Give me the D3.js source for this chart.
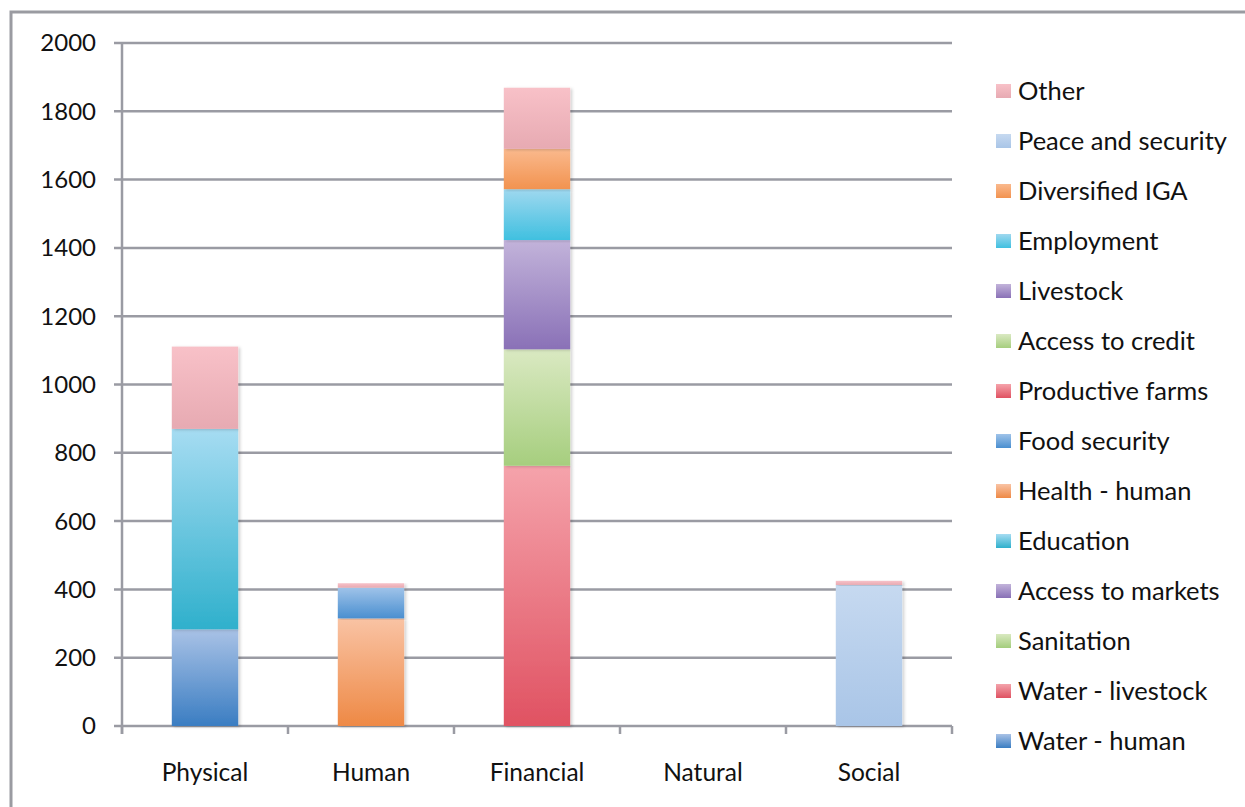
<!DOCTYPE html>
<html>
<head>
<meta charset="utf-8">
<script src="https://cdn.jsdelivr.net/npm/d3@7"></script>
<style>
  html, body { margin: 0; padding: 0; background: #fff; }
  svg { display: block; }
  text { font-family: Lato, "Open Sans", sans-serif; fill: #111; }
</style>
</head>
<body>
<svg id="chart" width="1245" height="807"></svg>
<script>
// Livelihood capital categories
const categories = ["Physical", "Human", "Financial", "Natural", "Social"];

// Series values per category (stacking order, bottom to top)
const waterHuman       = [283, 0, 0, 0, 0];
const waterLivestock   = [0, 0, 0, 0, 0];
const sanitation       = [0, 0, 0, 0, 0];
const accessToMarkets  = [0, 0, 0, 0, 0];
const education        = [587, 0, 0, 0, 0];
const healthHuman      = [0, 315, 0, 0, 0];
const foodSecurity     = [0, 90, 0, 0, 0];
const productiveFarms  = [0, 0, 762, 0, 0];
const accessToCredit   = [0, 0, 341, 0, 0];
const livestock        = [0, 0, 320, 0, 0];
const employment       = [0, 0, 149, 0, 0];
const diversifiedIGA   = [0, 0, 118, 0, 0];
const peaceSecurity    = [0, 0, 0, 0, 413];
const other            = [241, 13, 179, 0, 12];

const seriesNames = [
  "Water - human", "Water - livestock", "Sanitation", "Access to markets",
  "Education", "Health - human", "Food security", "Productive farms",
  "Access to credit", "Livestock", "Employment", "Diversified IGA",
  "Peace and security", "Other"
];
const seriesValues = [
  waterHuman, waterLivestock, sanitation, accessToMarkets,
  education, healthHuman, foodSecurity, productiveFarms,
  accessToCredit, livestock, employment, diversifiedIGA,
  peaceSecurity, other
];

const yTicks = [0, 200, 400, 600, 800, 1000, 1200, 1400, 1600, 1800, 2000];

// Gradient stops (top, bottom) for each series
const seriesColors = [
  ["#a9c2e6", "#3a7dc2"], // Water - human
  ["#f3a3ab", "#df5262"], // Water - livestock
  ["#d9e9c0", "#a3cd7c"], // Sanitation
  ["#c2b3da", "#8870b6"], // Access to markets
  ["#a6dcf2", "#2fb0cc"], // Education
  ["#f9c3a4", "#ee8945"], // Health - human
  ["#9fc3e9", "#4a8fd0"], // Food security
  ["#f5a3ab", "#e05262"], // Productive farms
  ["#dae9c2", "#a6ce7e"], // Access to credit
  ["#c2b3da", "#8a71b7"], // Livestock
  ["#9fd8ef", "#40c0e0"], // Employment
  ["#fab98d", "#f29350"], // Diversified IGA
  ["#c6d9f0", "#a9c5e7"], // Peace and security
  ["#f8c1c8", "#e7aab2"]  // Other
];

const table = categories.map((c, i) => {
  const row = { category: c };
  seriesNames.forEach((s, k) => { row[s] = seriesValues[k][i]; });
  return row;
});

const svg = d3.select("#chart");
const defs = svg.append("defs");

seriesNames.forEach((s, k) => {
  const g = defs.append("linearGradient")
    .attr("id", "grad" + k)
    .attr("x1", 0).attr("y1", 0).attr("x2", 0).attr("y2", 1);
  g.append("stop").attr("offset", "0%").attr("stop-color", seriesColors[k][0]);
  g.append("stop").attr("offset", "100%").attr("stop-color", seriesColors[k][1]);
});

const shadow = defs.append("filter").attr("id", "shadow")
  .attr("x", "-20%").attr("y", "-5%").attr("width", "140%").attr("height", "110%");
shadow.append("feDropShadow").attr("dx", 2).attr("dy", 1).attr("stdDeviation", 1.5)
  .attr("flood-color", "#000").attr("flood-opacity", 0.18);

// Outer frame
svg.append("rect")
  .attr("x", 11).attr("y", 12).attr("width", 1260).attr("height", 820)
  .attr("fill", "none").attr("stroke", "#9a9ba1").attr("stroke-width", 3);

const plotLeft = 122, plotRight = 952, plotTop = 43, plotBottom = 726;

const x = d3.scaleBand().domain(categories)
  .range([plotLeft, plotRight]).paddingInner(0.6).paddingOuter(0.3);
const y = d3.scaleLinear().domain([0, 2000]).range([plotBottom, plotTop]);

const gridColor = "#9a9ba3";

// Horizontal gridlines with left tick marks
svg.append("g").selectAll("line").data(yTicks).join("line")
  .attr("x1", plotLeft - 8).attr("x2", plotRight)
  .attr("y1", d => y(d)).attr("y2", d => y(d))
  .attr("stroke", gridColor).attr("stroke-width", 2.5);

// Y axis line
svg.append("line")
  .attr("x1", plotLeft).attr("x2", plotLeft)
  .attr("y1", plotTop).attr("y2", plotBottom + 8)
  .attr("stroke", gridColor).attr("stroke-width", 2.5);

// Category boundary ticks below the baseline
const step = x.step();
const boundaries = d3.range(categories.length + 1).map(i => plotLeft + i * step);
svg.append("g").selectAll("line").data(boundaries).join("line")
  .attr("x1", d => d).attr("x2", d => d)
  .attr("y1", plotBottom).attr("y2", plotBottom + 8)
  .attr("stroke", gridColor).attr("stroke-width", 2.5);

// Y tick labels
svg.append("g").selectAll("text").data(yTicks).join("text")
  .attr("x", 96).attr("y", d => y(d))
  .attr("dy", "0.35em")
  .attr("text-anchor", "end")
  .attr("font-size", 24)
  .text(d => d);

// X category labels
svg.append("g").selectAll("text").data(categories).join("text")
  .attr("x", d => x(d) + x.bandwidth() / 2)
  .attr("y", 772).attr("dy", "0.35em")
  .attr("text-anchor", "middle")
  .attr("font-size", 24.5)
  .text(d => d);

// Stacked bars
const stack = d3.stack().keys(seriesNames);
const layers = stack(table);

const barGroup = svg.append("g");
layers.forEach((layer, k) => {
  barGroup.append("g")
    .selectAll("rect")
    .data(layer.filter(d => d[1] - d[0] > 0))
    .join("rect")
    .attr("x", d => x(d.data.category))
    .attr("width", x.bandwidth())
    .attr("y", d => y(d[1]))
    .attr("height", d => y(d[0]) - y(d[1]))
    .attr("fill", `url(#grad${k})`)
    .attr("filter", "url(#shadow)");
});

// Legend (top entry is the last series)
const legendItems = seriesNames.map((s, k) => ({ name: s, k })).reverse();
const legend = svg.append("g").selectAll("g").data(legendItems).join("g")
  .attr("transform", (d, i) => `translate(996, ${91 + i * 50})`);
legend.append("rect")
  .attr("x", 0).attr("y", -7).attr("width", 15).attr("height", 14)
  .attr("fill", d => `url(#grad${d.k})`);
legend.append("text")
  .attr("x", 22).attr("y", 0).attr("dy", "0.35em")
  .attr("font-size", 25.5)
  .text(d => d.name);
</script>
</body>
</html>
